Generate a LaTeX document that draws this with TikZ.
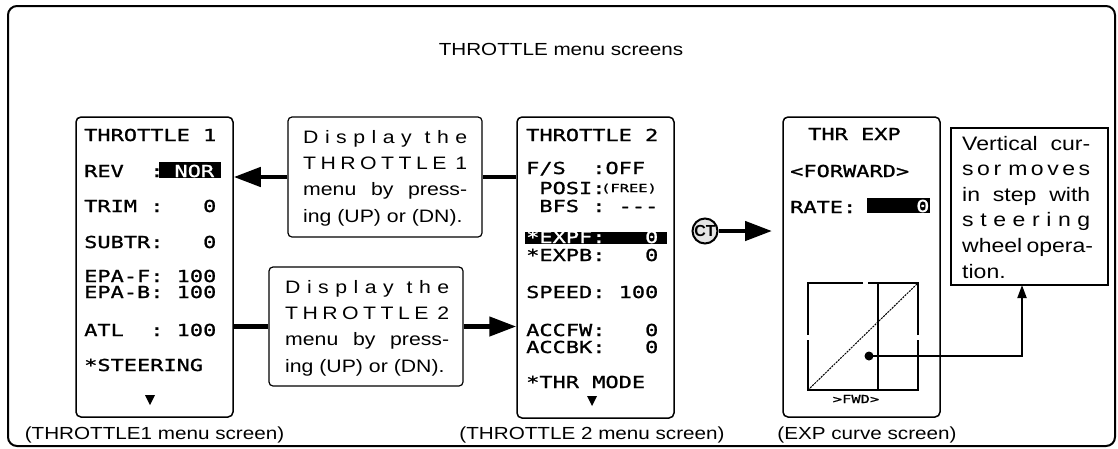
\documentclass[tikz,border=0pt]{standalone}
\usepackage{fontspec}
\setmainfont{Liberation Sans}
\newfontfamily\labfont[FakeStretch=1.18]{Liberation Sans}
\newfontfamily\lcdfont[FakeStretch=1.33,FakeBold=1.2]{DejaVu Sans Mono}
\newfontfamily\lcdsmall[FakeStretch=1.4,FakeBold=1]{DejaVu Sans Mono}
\usetikzlibrary{arrows.meta}
\newcommand\labf{\labfont\fontsize{17.5}{26.4}\selectfont}
\newcommand\boxf{\labfont\fontsize{18}{26.4}\selectfont}
\newcommand\lcdf{\lcdfont\fontsize{16.5}{16.5}\selectfont}
\newcommand\lcdsm{\lcdsmall\fontsize{11}{11}\selectfont}
\newcommand\bl{\phantom{0}}
\newcommand\spr[1]{\makebox[\linewidth][s]{#1}}
\tikzset{
  scr/.style={draw, line width=1.5pt, rounded corners=5pt, inner sep=0pt},
  msg/.style={draw, line width=1.2pt, rounded corners=4pt, inner sep=0pt},
  notebox/.style={draw, line width=1.2pt, inner sep=0pt},
  lcdt/.style={font=\lcdf, inner sep=0pt, anchor=base west},
  lcdw/.style={font=\lcdf, inner sep=0pt, anchor=base west, text=white},
  labt/.style={font=\boxf, inner sep=0pt, anchor=base west},
  capt/.style={font=\labf, inner sep=0pt, anchor=base},
  conn/.style={line width=4.5pt},
  big/.style={-{Triangle[length=27pt,width=19pt]}},
  hl/.style={fill=black},
  tri/.style={fill=black}
}
\begin{document}
\begin{tikzpicture}[x=1pt,y=-1pt]
\useasboundingbox (0,0) rectangle (1118,448);
% outer frame
\draw[line width=2pt, rounded corners=9pt] (8,6) rectangle (1115,446);
% title
\node[capt] (title) at (561,55) {THROTTLE menu screens};

% screens
\node[scr, minimum width=157pt, minimum height=300pt] (s1) at (154.5,267) {};
\node[scr, minimum width=157pt, minimum height=301pt] (s2) at (595.5,267.5) {};
\node[scr, minimum width=157pt, minimum height=300pt] (s3) at (861.5,267) {};

% message boxes
\node[msg, minimum width=194pt, minimum height=120pt] (ma) at (385,177) {};
\node[msg, minimum width=194pt, minimum height=119pt] (mb) at (366,326.5) {};
\node[notebox, minimum width=157pt, minimum height=157pt] (note) at (1029.5,206.5) {};

\node[labt] (ta) at (303,143) {\parbox[t]{164pt}{\spr{D\hfil i\hfil s\hfil p\hfil l\hfil a\hfil y\hfil\hfil t\hfil h\hfil e}\\
\spr{T\hfil H\hfil R\hfil O\hfil T\hfil T\hfil L\hfil E\hfil\hfil 1}\\
\spr{menu by press-}\\
ing (UP) or (DN).}};
\node[labt] (tb) at (285,293) {\parbox[t]{164pt}{\spr{D\hfil i\hfil s\hfil p\hfil l\hfil a\hfil y\hfil\hfil t\hfil h\hfil e}\\
\spr{T\hfil H\hfil R\hfil O\hfil T\hfil T\hfil L\hfil E\hfil\hfil 2}\\
\spr{menu by press-}\\
ing (UP) or (DN).}};
\node[labt] (tn) at (962,150) {\parbox[t]{128pt}{\fontsize{19.5}{25.6}\selectfont
\spr{Vertical cur-}\\
\spr{s\hfil o\hfil r\hfil\hfil m\hfil o\hfil v\hfil e\hfil s}\\
\spr{in step with}\\
\spr{s\hfil t\hfil e\hfil e\hfil r\hfil i\hfil n\hfil g}\\
\spr{wheel opera-}\\
tion.}};

% screen 1 contents
\node[lcdt] (a1) at (84,141) {THROTTLE\bl 1};
\node[lcdt] (a2) at (84,177) {REV\bl\bl:};
\fill[hl] (159,162) rectangle (221,178);
\node[lcdw] (a2b) at (174.3,177) {NOR};
\node[lcdt] (a3) at (84,212) {TRIM\bl:\bl\bl\bl 0};
\node[lcdt] (a4) at (84,248) {SUBTR:\bl\bl\bl 0};
\node[lcdt] (a5) at (84,282) {EPA-F:\bl 100};
\node[lcdt] (a6) at (84,298) {EPA-B:\bl 100};
\node[lcdt] (a7) at (84,336) {ATL\bl\bl:\bl 100};
\node[lcdt] (a8) at (84,371) {*STEERING};
\fill[tri] (145,395) -- (155,395) -- (150,405) -- cycle;

% screen 2 contents
\node[lcdt] (b1) at (526,141) {THROTTLE\bl 2};
\node[lcdt] (b2) at (526,174) {F/S\bl\bl:OFF};
\node[lcdt] (b3) at (526,194) {\bl POSI:};
\node[font=\lcdsm, inner sep=0pt, anchor=base west] (b3b) at (601,192) {(FREE)};
\node[lcdt] (b4) at (526,212) {\bl BFS\bl:\bl ---};
\fill[hl] (525,232) rectangle (667,244);
\node[lcdw] (b5) at (526,243) {*EXPF:\bl\bl\bl 0};
\node[lcdt] (b6) at (526,261) {*EXPB:\bl\bl\bl 0};
\node[lcdt] (b7) at (526,298) {SPEED:\bl 100};
\node[lcdt] (b8) at (526,336) {ACCFW:\bl\bl\bl 0};
\node[lcdt] (b9) at (526,353) {ACCBK:\bl\bl\bl 0};
\node[lcdt] (b10) at (526,388) {*THR\bl MODE};
\fill[tri] (587,396) -- (597,396) -- (592,406) -- cycle;

% screen 3 contents
\node[lcdt] (c1) at (808,140) {THR\bl EXP};
\node[lcdt] (c2) at (790,177) {<FORWARD>};
\node[lcdt] (c3) at (790,213) {RATE:};
\fill[hl] (867,198) rectangle (930,213);
\node[lcdw] (c3b) at (916,212) {0};
% graph
\draw[line width=1.5pt] (863,283) -- (808,283) -- (808,335)
  (808,340) -- (808,390) -- (918,390) -- (918,340)
  (918,335) -- (918,283) -- (868,283);
\draw[line width=1.5pt] (878,283) -- (878,390);
\draw[line width=1pt, dash pattern=on 2pt off 1pt] (808,390) -- (918,283);
\node[font=\lcdsm, inner sep=0pt, anchor=base] (c4) at (856,403) {>FWD>};

% captions
\node[capt] (cap1) at (154.5,439) {(THROTTLE1 menu screen)};
\node[capt] (cap2) at (592,439) {(THROTTLE 2 menu screen)};
\node[capt] (cap3) at (867,439) {(EXP curve screen)};

% connectors
\draw[conn, big] (ma.west) -- (ma.west -| s1.east);
\draw[conn] (ma.east) -- (ma.east -| s2.west);
\draw[conn] (s1.east |- mb.west) -- (mb.west);
\draw[conn, big] (mb.east) -- (mb.east -| s2.west);

% CT
\node[circle, draw, line width=2pt, fill=gray!20, minimum size=25pt, inner sep=0pt,
  font=\fontsize{16}{16}\selectfont\bfseries] (ct) at (705,231) {CT};
\coordinate (cte) at (772,231);
\draw[conn, big] (ct.east) -- (cte);

% cursor dot and arrow to note
\node[circle, fill=black, inner sep=0pt, minimum size=9pt] (dot) at (869,356) {};
\coordinate (nb) at (1022,285);
\draw[line width=2pt, -{Triangle[length=13pt,width=9pt]}] (dot.center) -| (nb);
\end{tikzpicture}
\end{document}
